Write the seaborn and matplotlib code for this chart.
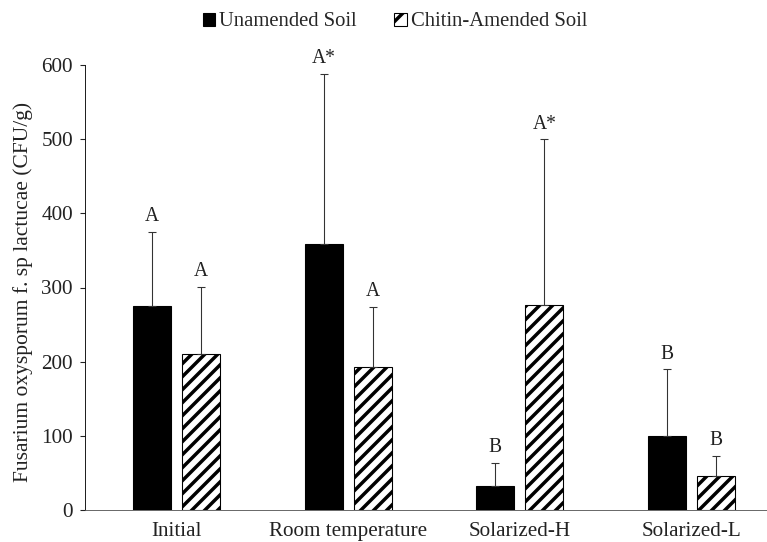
import matplotlib
matplotlib.use("Agg")
import matplotlib.pyplot as plt
import pandas as pd
import seaborn as sns
from matplotlib.patches import Patch

# data
categories = ["Initial", "Room temperature", "Solarized-H", "Solarized-L"]
series = ["Unamended Soil", "Chitin-Amended Soil"]
unamended = [275, 358, 33, 100]
chitin = [210, 193, 276, 46]
unamended_err = [100, 230, 31, 90]   # upper error only
chitin_err = [91, 81, 224, 27]
unamended_lbl = ["A", "A*", "B", "B"]
chitin_lbl = ["A", "A", "A*", "B"]

df = pd.DataFrame({
    "Treatment": categories * 2,
    "Soil": [series[0]] * 4 + [series[1]] * 4,
    "CFU": unamended + chitin,
})

sns.set_style("white")
plt.rcParams["font.family"] = ["Liberation Serif", "DejaVu Serif"]
plt.rcParams["hatch.linewidth"] = 3.2

DPI = 78
fig = plt.figure(figsize=(767 / DPI, 542 / DPI), dpi=DPI)
ax = fig.add_axes([85 / 767, 1 - 510 / 542, (767 - 85) / 767, (510 - 65) / 542])

sns.barplot(data=df, x="Treatment", y="CFU", hue="Soil", order=categories,
            hue_order=series, palette=["black", "white"], width=0.571, gap=0.225,
            edgecolor="black", linewidth=1.0, errorbar=None, legend=False, ax=ax)

# hatch the chitin bars
for p in ax.containers[1]:
    p.set_hatch("//")
    p.set_edgecolor("black")

# upper-only error bars and letter labels
for cont, err, lbls in [(ax.containers[0], unamended_err, unamended_lbl),
                        (ax.containers[1], chitin_err, chitin_lbl)]:
    xs = [p.get_x() + p.get_width() / 2 for p in cont]
    hs = [p.get_height() for p in cont]
    ax.errorbar(xs, hs, yerr=[[0] * len(err), err], fmt="none",
                ecolor="#333333", elinewidth=1.0, capsize=4, capthick=1.0, zorder=3)
    for x, h, e, t in zip(xs, hs, err, lbls):
        ax.annotate(t, (x, h + e), xytext=(0, 5), textcoords="offset points",
                    ha="center", va="bottom", fontsize=18, color="#222222",
                    annotation_clip=False)

ax.set_ylim(0, 600)
ax.set_xlim(-0.533, 3.44)
ax.set_yticks(range(0, 601, 100))
ax.set_xlabel("")
ax.set_ylabel("Fusarium oxysporum f. sp lactucae (CFU/g)", fontsize=19.8, color="#222222")
ax.yaxis.set_label_coords(-0.076, 0.49)
ax.tick_params(axis="y", direction="out", length=4.6, width=1, labelsize=19.5,
               colors="#222222", left=True, pad=6.5)
ax.tick_params(axis="x", length=0, labelsize=19.5, colors="#222222", pad=11)
sns.despine(ax=ax, top=True, right=True)
ax.spines["left"].set_color("black")
ax.spines["bottom"].set_color("#555555")

handles = [Patch(facecolor="black", edgecolor="black"),
           Patch(facecolor="white", edgecolor="black", hatch="/")]
fig.legend(handles, series, loc="center", bbox_to_anchor=(0.515, 1 - 22 / 542),
           ncol=2, frameon=False, fontsize=19, handlelength=0.6, handleheight=0.6,
           handletextpad=0.2, columnspacing=1.8)

plt.savefig("out.png", dpi=DPI)
